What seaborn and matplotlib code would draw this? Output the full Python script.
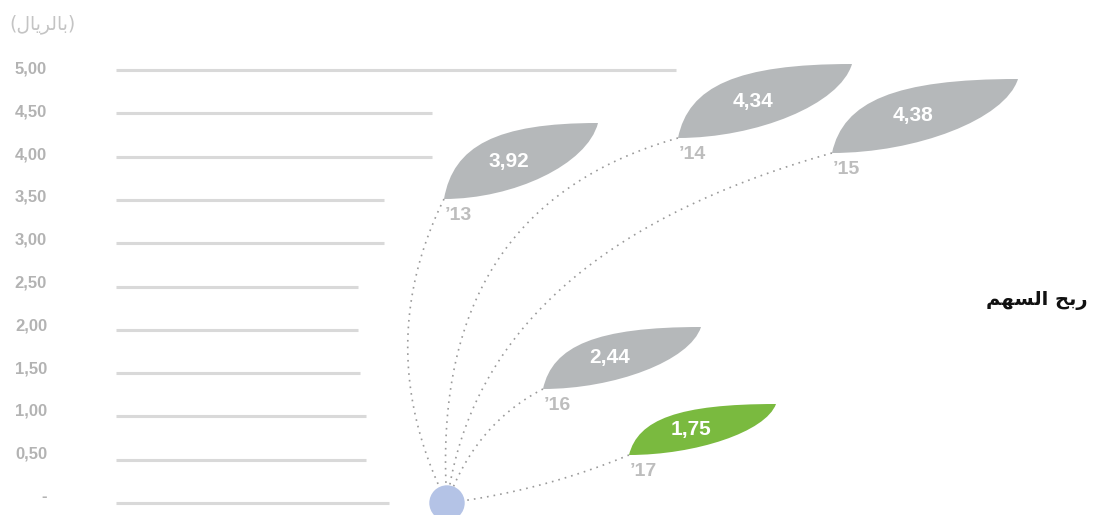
import numpy as np
import pandas as pd
import matplotlib
matplotlib.use("Agg")
import matplotlib.pyplot as plt
from matplotlib.patches import PathPatch
from matplotlib.path import Path
import seaborn as sns

# ---------------- data ----------------
years = ["\u201913", "\u201914", "\u201915", "\u201916", "\u201917"]
values = [3.92, 4.34, 4.38, 2.44, 1.75]
tick_values = [0, 0.5, 1.0, 1.5, 2.0, 2.5, 3.0, 3.5, 4.0, 4.5, 5.0]
tick_labels = ["-", "0,50", "1,00", "1,50", "2,00", "2,50", "3,00", "3,50", "4,00", "4,50", "5,00"]
# Arabic shaped in visual order (presentation forms)
unit_label = "(" + "\uFEDD\uFE8E\uFEF3\uFEAE\uFEDF\uFE8E\uFE91" + ")"   # (بالريال)
title_label = "\uFEE2\uFEEC\uFEB4\uFEDF\uFE8D \uFEA2\uFE91\uFEAD"        # ربح السهم

# ---------------- layout (pixel x, pixel y) ----------------
PX = 86.6          # pixels per unit
Y0 = 503           # pixel row of value 0
def vy(py):
    return (Y0 - py) / PX

grid_end_x = [389, 366, 366, 360, 358, 358, 384, 384, 432, 432, 676]
leaf_base = [(444, 199), (678, 138), (832, 153), (543, 389), (629, 455)]
leaf_tip = [(598, 123), (852, 64), (1018, 79), (701, 327), (776, 404)]
stem_ctrl = [(370, 349), (427, 209), (480, 252), (475, 424), (542, 491)]
root = (447, 503)
leaf_colors = ["#b5b8ba", "#b5b8ba", "#b5b8ba", "#b5b8ba", "#7aba3f"]

sns.set_theme(style="white")
plt.rcParams["font.family"] = ["Liberation Sans", "DejaVu Sans"]

fig = plt.figure(figsize=(10.98, 5.15), dpi=100)
ax = fig.add_axes([0, 0, 1, 1])
ax.set_xlim(0, 1098)
ax.set_ylim(vy(515), vy(0))
ax.axis("off")

# gridlines
for v, xe in zip(tick_values, grid_end_x):
    ax.plot([116, xe], [v, v], color="#d9d9d9", lw=2.2, solid_capstyle="butt", zorder=1)

# tick labels
for v, lab in zip(tick_values, tick_labels):
    ax.text(47, v + (6 - v) / PX, lab, ha="right", va="center", fontsize=12,
            fontweight="bold", color="#b3b3b3")

# unit label
ax.text(9, vy(24), unit_label, ha="left", va="center", fontsize=13.5,
        color="#c4c4c4", family=["DejaVu Sans"])

# stems (quadratic bezier, drawn as dotted lines via seaborn)
t = np.linspace(0, 1, 80)
for (bx, by), (cx, cy) in zip(leaf_base, stem_ctrl):
    xs = (1 - t) ** 2 * bx + 2 * (1 - t) * t * cx + t ** 2 * root[0]
    ys = (1 - t) ** 2 * by + 2 * (1 - t) * t * cy + t ** 2 * root[1]
    df = pd.DataFrame({"x": xs, "y": vy(ys)})
    sns.lineplot(data=df, x="x", y="y", sort=False, ax=ax, color="#9a9a9a",
                 lw=1.2, linestyle=(0, (1, 3)), zorder=2)

# root circle
sns.scatterplot(x=[root[0]], y=[0], ax=ax, s=650, color="#b4c3e6",
                edgecolor="none", zorder=3)

# leaves: lens of two cubic bezier edges (normalised shape)
upper = [(0.06, 0.70), (0.34, 1.0)]
lower = [(0.93, 0.45), (0.45, 0.0)]
for (bx, by), (tx, ty), col, val, yr in zip(leaf_base, leaf_tip, leaf_colors, values, years):
    dx = tx - bx
    dy = by - ty
    def P(u, w):
        return (bx + u * dx, vy(by - w * dy))
    verts = [P(0, 0), P(*upper[0]), P(*upper[1]), P(1, 1),
             P(*lower[0]), P(*lower[1]), P(0, 0)]
    codes = [Path.MOVETO, Path.CURVE4, Path.CURVE4, Path.CURVE4,
             Path.CURVE4, Path.CURVE4, Path.CURVE4]
    ax.add_patch(PathPatch(Path(verts, codes), facecolor=col, edgecolor="none", zorder=4))
    cx = (bx + tx) / 2 - 12
    cy = vy((by + ty) / 2)
    ax.text(cx, cy, f"{val:.2f}".replace(".", ","), ha="center", va="center",
            fontsize=15, fontweight="bold", color="white", zorder=5)
    ax.text(bx + 1, vy(by + 16), yr, ha="left", va="center", fontsize=14,
            fontweight="bold", color="#bdbdbd", zorder=5)

# title
ax.text(1088, vy(301), title_label, ha="right", va="center", fontsize=14,
        fontweight="bold", color="#111111", family=["DejaVu Sans"])

fig.savefig("out.png", dpi=100)
